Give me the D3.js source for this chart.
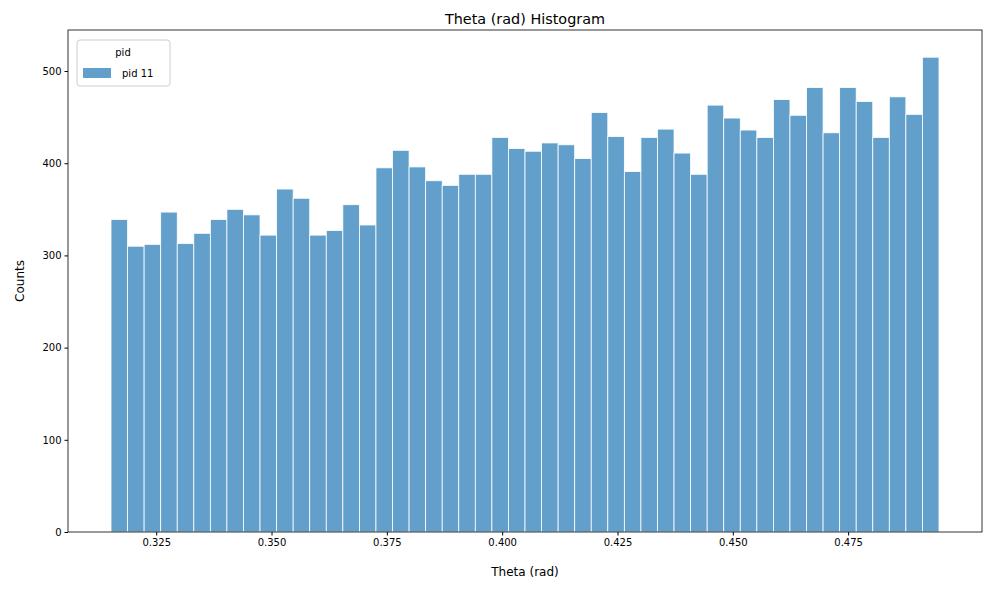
<!DOCTYPE html><html><head><meta charset="utf-8"><script src="https://cdn.jsdelivr.net/npm/d3@7"></script>
<style>body{margin:0;background:#fff}text{font-family:"DejaVu Sans",sans-serif}</style></head><body>
<svg id="c" width="989" height="590"></svg>
<script>
const counts=[339,310,312,347,313,324,339,350,344,322,372,362,322,327,355,333,395,414,396,381,376,388,388,428,416,413,422,420,405,455,429,391,428,437,411,388,463,449,436,428,469,452,482,433,482,467,428,472,453,515];
const binStart=0.3152, binEnd=0.4947;
const xTicks=[0.325,0.35,0.375,0.4,0.425,0.45,0.475];
const yTicks=[0,100,200,300,400,500];
const svg=d3.select("#c");
const L=68,R=982,T=30,B=532;
const w=(binEnd-binStart)/counts.length;
const x=d3.scaleLinear().domain([binStart-(111-L)/828*(binEnd-binStart),binEnd+(R-939)/828*(binEnd-binStart)]).range([L,R]);
const y=d3.scaleLinear().domain([0,544.5]).range([B,T]);
svg.append("g").selectAll("rect").data(counts).join("rect")
 .attr("x",(d,i)=>x(binStart+i*w)).attr("width",(d,i)=>x(binStart+(i+1)*w)-x(binStart+i*w))
 .attr("y",d=>y(d)).attr("height",d=>B-y(d)).attr("fill","#62a0cb").attr("stroke","#fff").attr("stroke-width",0.8);
svg.append("rect").attr("x",L).attr("y",T).attr("width",R-L).attr("height",B-T).attr("fill","none").attr("stroke","#000").attr("stroke-width",0.8);
const xa=svg.append("g").attr("transform",`translate(0,${B})`).call(d3.axisBottom(x).tickValues(xTicks).tickFormat(d3.format(".3f")).tickSizeOuter(0).tickSize(3.5));
const ya=svg.append("g").attr("transform",`translate(${L},0)`).call(d3.axisLeft(y).tickValues(yTicks).tickSizeOuter(0).tickSize(3.5));
[xa,ya].forEach(a=>{a.select(".domain").remove();a.selectAll("text").attr("font-size",10).attr("fill","#000");});
svg.append("text").attr("x",(L+R)/2).attr("y",24).attr("text-anchor","middle").attr("font-size",14.4).text("Theta (rad) Histogram");
svg.append("text").attr("x",(L+R)/2).attr("y",576).attr("text-anchor","middle").attr("font-size",12).text("Theta (rad)");
svg.append("text").attr("transform",`translate(24,${(T+B)/2}) rotate(-90)`).attr("text-anchor","middle").attr("font-size",12).text("Counts");
const lg=svg.append("g");
lg.append("rect").attr("x",77).attr("y",40).attr("width",93).attr("height",46).attr("rx",3).attr("fill","#fff").attr("stroke","#ccc");
lg.append("text").attr("x",123).attr("y",56).attr("text-anchor","middle").attr("font-size",10).text("pid");
lg.append("rect").attr("x",83).attr("y",68).attr("width",28).attr("height",10).attr("fill","#62a0cb");
lg.append("text").attr("x",122).attr("y",77).attr("font-size",10).text("pid 11");
</script></body></html>
